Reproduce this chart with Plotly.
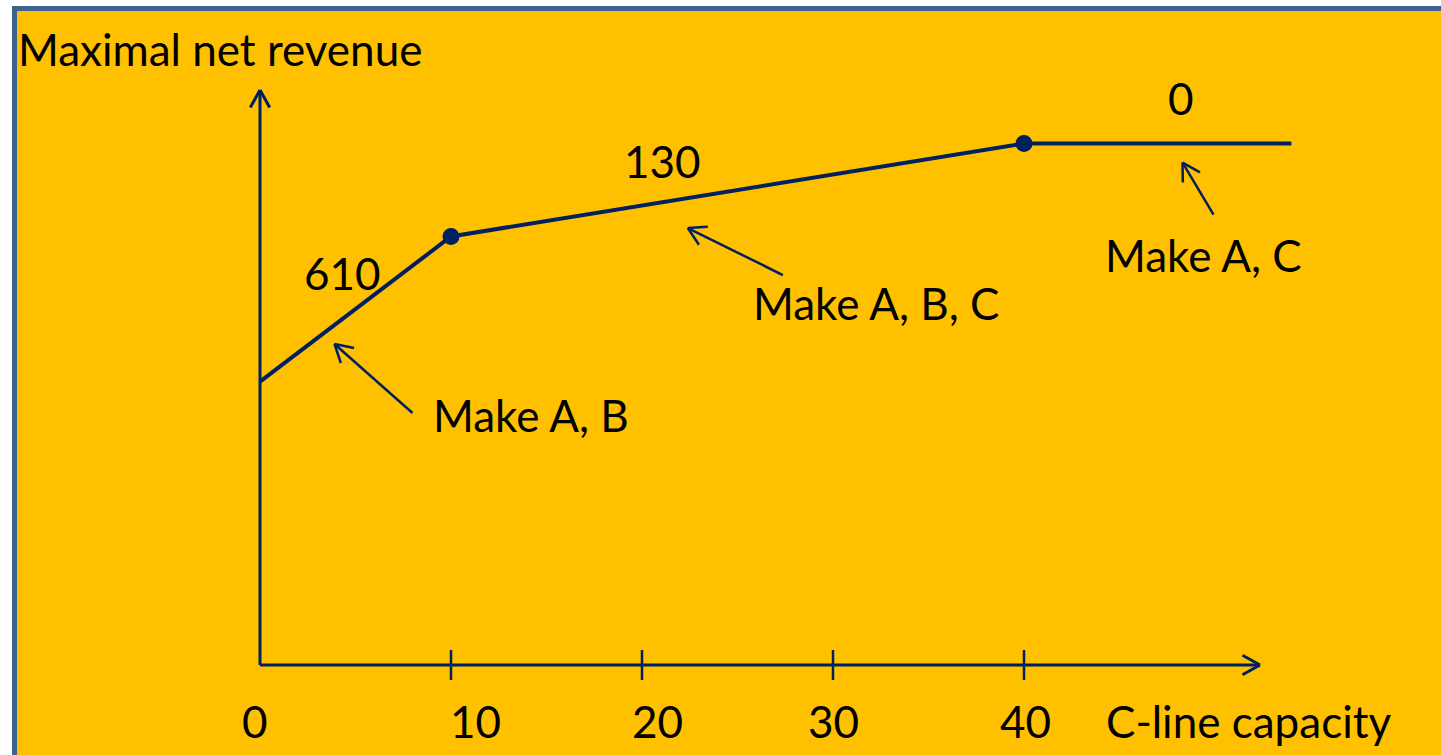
import plotly.graph_objects as go
import math

# Piecewise-linear maximal net revenue vs. C-line capacity
capacity = [0, 10, 40, 54]          # breakpoints of the curve
slopes = [610, 130, 0]              # marginal revenue per unit of C-line capacity
base_revenue = 11900                # revenue with zero C-line capacity
breakpoints = [10, 40]              # capacities marked with a dot

tick_values = [0, 10, 20, 30, 40]
tick_labels = ["0", "10", "20", "30", "40"]
segment_labels = ["610", "130", "0"]
plan_labels = ["Make A, B", "Make A, B, C", "Make A, C"]

revenue = [base_revenue]
for i, s in enumerate(slopes):
    revenue.append(revenue[-1] + s * (capacity[i + 1] - capacity[i]))


def revenue_at(c):
    for i in range(len(slopes)):
        if capacity[i] <= c <= capacity[i + 1]:
            return revenue[i] + slopes[i] * (c - capacity[i])
    return revenue[-1]


# ---- canvas geometry -------------------------------------------------------
W, H = 1441, 755
X_ORIGIN_PX, X_PX_PER_UNIT = 260, 19.1
Y_ORIGIN_PX, Y_UNITS_PER_PX = 665, 42.0

NAVY = "#002060"
GOLD = "#FFC000"
FONT = "Lato"
FSIZE = 44


def to_x(px):
    return (px - X_ORIGIN_PX) / X_PX_PER_UNIT


def to_y(py):
    return (Y_ORIGIN_PX - py) * Y_UNITS_PER_PX


def dx(px):
    return px / X_PX_PER_UNIT


def dy(py):
    # pixel offsets grow downward
    return -py * Y_UNITS_PER_PX


def chevron(tx, ty, ux, uy, arm=20, half_angle=30):
    """Open V arrowhead at (tx, ty); (ux, uy) points back along the shaft in pixels."""
    n = math.hypot(ux, uy)
    ux, uy = ux / n, uy / n
    xs, ys = [], []
    for sgn in (1, -1):
        a = math.radians(half_angle) * sgn
        rx = ux * math.cos(a) - uy * math.sin(a)
        ry = ux * math.sin(a) + uy * math.cos(a)
        xs += [tx + dx(rx * arm), tx, None]
        ys += [ty + dy(ry * arm), ty, None]
    return xs, ys


fig = go.Figure()

# axes with arrowheads
y_top = to_y(90)
x_end = to_x(1260)
ax_x = [0, 0, None, 0, x_end, None]
ax_y = [y_top, 0, None, 0, 0, None]
hx, hy = chevron(0, y_top, 0, 1, arm=20, half_angle=29)
ax_x += hx
ax_y += hy
hx, hy = chevron(x_end, 0, -1, 0, arm=20, half_angle=29)
ax_x += hx
ax_y += hy
fig.add_trace(go.Scatter(x=ax_x, y=ax_y, mode="lines",
                         line=dict(color=NAVY, width=3), hoverinfo="skip"))

# tick marks
tk_x, tk_y = [], []
for t in tick_values[1:]:
    tk_x += [t, t, None]
    tk_y += [dy(-15), dy(15), None]
fig.add_trace(go.Scatter(x=tk_x, y=tk_y, mode="lines",
                         line=dict(color=NAVY, width=2.5), hoverinfo="skip"))

# revenue curve
fig.add_trace(go.Scatter(x=capacity, y=revenue, mode="lines",
                         line=dict(color=NAVY, width=4), hoverinfo="skip"))
fig.add_trace(go.Scatter(x=breakpoints, y=[revenue_at(b) for b in breakpoints],
                         mode="markers", marker=dict(color=NAVY, size=17),
                         hoverinfo="skip"))

# pointer arrows from the plan labels to the segments
arrow_tips = [3.9, 22.4, 48.3]             # capacity pointed at
arrow_gap_px = [19, 30, 19]                # distance below the curve
arrow_tail_px = [(78, 69), (95, 47), (31, 52)]
ar_x, ar_y = [], []
for c, gap, (tx_px, ty_px) in zip(arrow_tips, arrow_gap_px, arrow_tail_px):
    tip_y = revenue_at(c) + dy(gap)
    ar_x += [c, c + dx(tx_px), None]
    ar_y += [tip_y, tip_y + dy(ty_px), None]
    hx, hy = chevron(c, tip_y, tx_px, ty_px)
    ar_x += hx
    ar_y += hy
fig.add_trace(go.Scatter(x=ar_x, y=ar_y, mode="lines",
                         line=dict(color=NAVY, width=2.5), hoverinfo="skip"))

annotations = []


def text(label, x, y, xanchor="center", xshift=0):
    annotations.append(dict(text=label, x=x, y=y, xref="x", yref="y",
                            xanchor=xanchor, yanchor="middle", xshift=xshift,
                            showarrow=False,
                            font=dict(family=FONT, size=FSIZE, color="black")))


# axis titles
text("Maximal net revenue", to_x(16), to_y(49), xanchor="left")
text("C-line capacity", to_x(1104), to_y(721), xanchor="left")

# tick labels
tick_label_shift_px = [-5, 24, 15, 0, 1]
for v, lab, sh in zip(tick_values, tick_labels, tick_label_shift_px):
    text(lab, v, to_y(721), xshift=sh)

# slope labels above the segments
text(segment_labels[0], to_x(342), to_y(273))
text(segment_labels[1], to_x(662), to_y(161))
text(segment_labels[2], to_x(1181), to_y(98))

# plan labels
text(plan_labels[0], to_x(531), to_y(415))
text(plan_labels[1], to_x(876), to_y(303))
text(plan_labels[2], to_x(1203), to_y(255))

fig.update_layout(
    width=W, height=H,
    margin=dict(l=0, r=0, t=0, b=0),
    paper_bgcolor="white",
    plot_bgcolor="rgba(0,0,0,0)",
    showlegend=False,
    xaxis=dict(range=[to_x(0), to_x(W)], visible=False, fixedrange=True),
    yaxis=dict(range=[to_y(H), to_y(0)], visible=False, fixedrange=True),
    annotations=annotations,
    shapes=[dict(type="rect", xref="paper", yref="paper",
                 x0=14.5 / W, x1=1.1, y0=-0.1, y1=1 - 8.5 / H,
                 fillcolor=GOLD, line=dict(color="#3E6290", width=5),
                 layer="below")],
)

fig.write_html("out.html")
